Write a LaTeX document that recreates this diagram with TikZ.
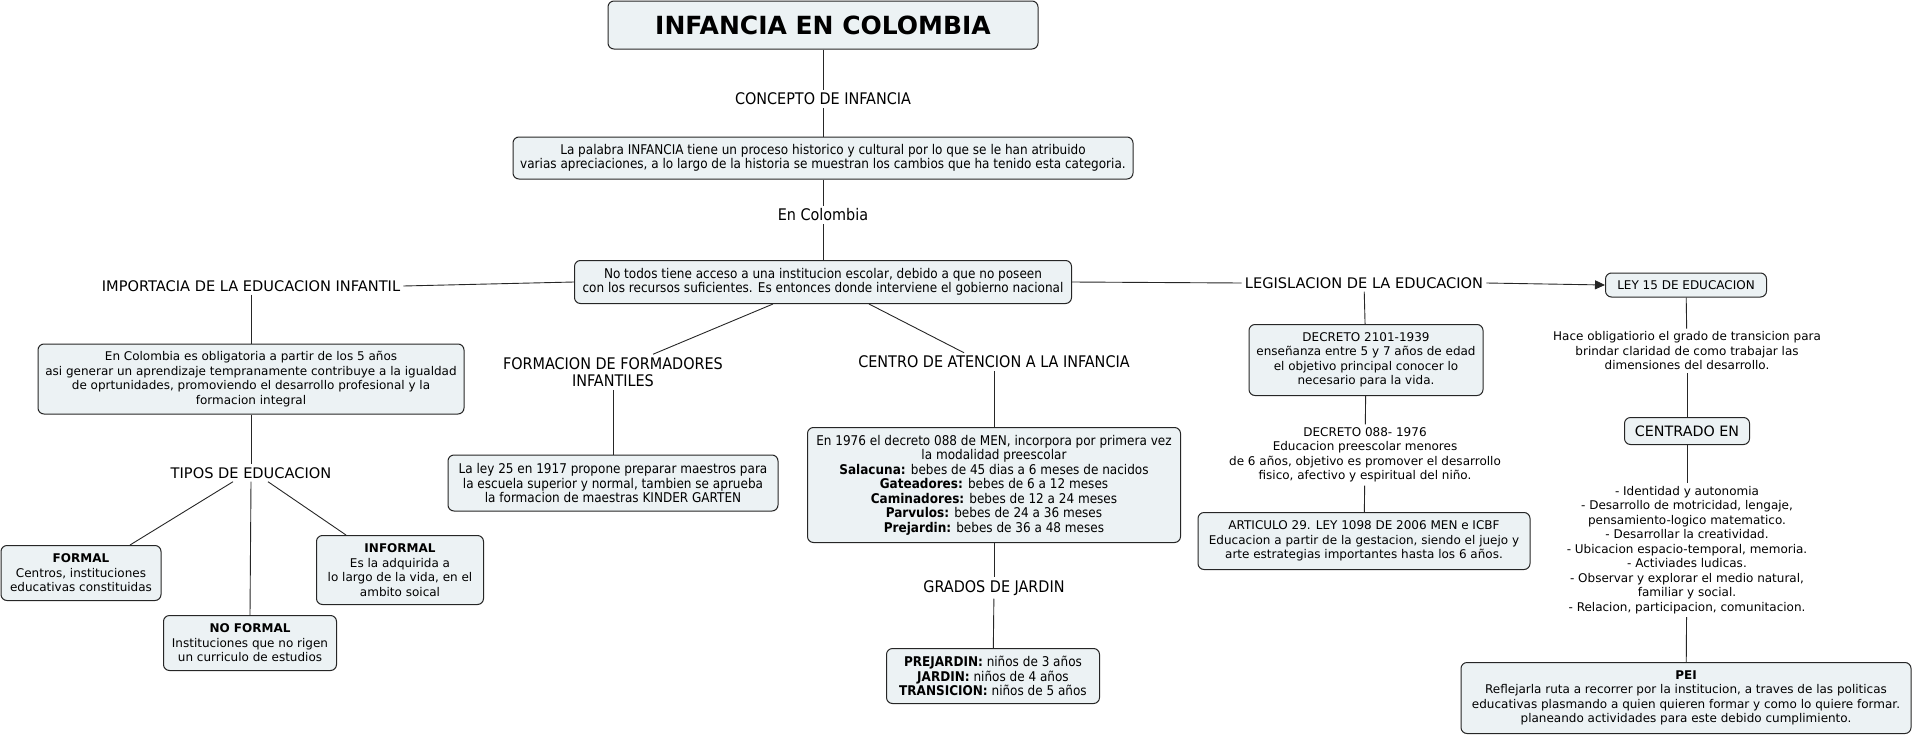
\documentclass[tikz,border=0pt]{standalone}
\usepackage{fontspec}
\usetikzlibrary{arrows.meta}
\setmainfont{DejaVu Sans}
\newfontfamily\narrowfont{DejaVu Sans Condensed}
\definecolor{boxfill}{RGB}{236,242,244}
\tikzset{
  mapbox/.style={draw=black!85,fill=boxfill,rounded corners=6pt,line width=1pt,align=center,inner sep=2pt,font=\fontsize{12}{14.5}\selectfont},
  narrowbox/.style={mapbox,font=\narrowfont\fontsize{13.4}{14.5}\selectfont},
  linkword/.style={align=center,inner sep=3pt,font=\fontsize{14.6}{17}\selectfont},
  narrowword/.style={linkword,font=\narrowfont\fontsize{16}{17}\selectfont},
  smallword/.style={align=center,inner sep=3pt,font=\fontsize{12}{14.5}\selectfont},
  link/.style={line width=0.9pt,draw=black!85}
}
\begin{document}
\begin{tikzpicture}[x=1pt,y=-1pt]
	\useasboundingbox (0,0) rectangle (1914,736);
	% centro del mapa
	\node[mapbox,minimum width=430,minimum height=48,font=\bfseries\fontsize{25}{28}\selectfont] (titulo) at (823,25) {INFANCIA EN COLOMBIA};
	\node[narrowword] (concepto) at (823,99) {CONCEPTO DE INFANCIA};
	\node[narrowbox,minimum width=620,minimum height=42] (palabra) at (823,158) {La palabra INFANCIA tiene un proceso historico y cultural por lo que se le han atribuido\\varias apreciaciones, a lo largo de la historia se muestran los cambios que ha tenido esta categoria.};
	\node[narrowword] (encolombia) at (823,215) {En Colombia};
	\node[narrowbox,minimum width=497,minimum height=43] (notodos) at (823,282) {No todos tiene acceso a una institucion escolar, debido a que no poseen\\con los recursos suficientes. Es entonces donde interviene el gobierno nacional};
	% rama izquierda
	\node[linkword] (importancia) at (251,286) {IMPORTACIA DE LA EDUCACION INFANTIL};
	\node[mapbox,minimum width=426,minimum height=70] (obligatoria) at (251,379) {En Colombia es obligatoria a partir de los 5 años\\asi generar un aprendizaje tempranamente contribuye a la igualdad\\de oprtunidades, promoviendo el desarrollo profesional y la\\formacion integral};
	\node[linkword] (tipos) at (251,473) {TIPOS DE EDUCACION};
	\node[mapbox,minimum width=160,minimum height=55] (formal) at (81,573) {\textbf{FORMAL}\\Centros, instituciones\\educativas constituidas};
	\node[mapbox,minimum width=173,minimum height=55] (noformal) at (250,643) {\textbf{NO FORMAL}\\Instituciones que no rigen\\un curriculo de estudios};
	\node[mapbox,minimum width=167,minimum height=69] (informal) at (400,570) {\textbf{INFORMAL}\\Es la adquirida a\\lo largo de la vida, en el\\ambito soical};
	% ramas del centro
	\node[narrowword] (formacion) at (613,372) {FORMACION DE FORMADORES\\INFANTILES};
	\node[narrowbox,minimum width=330,minimum height=56] (ley25) at (613,483) {La ley 25 en 1917 propone preparar maestros para\\la escuela superior y normal, tambien se aprueba\\la formacion de maestras KINDER GARTEN};
	\node[narrowword] (centro) at (994,362) {CENTRO DE ATENCION A LA INFANCIA};
	\node[narrowbox,minimum width=373,minimum height=115] (decreto1976) at (994,485) {En 1976 el decreto 088 de MEN, incorpora por primera vez\\la modalidad preescolar\\\textbf{Salacuna:} bebes de 45 dias a 6 meses de nacidos\\\textbf{Gateadores:} bebes de 6 a 12 meses\\\textbf{Caminadores:} bebes de 12 a 24 meses\\\textbf{Parvulos:} bebes de 24 a 36 meses\\\textbf{Prejardin:} bebes de 36 a 48 meses};
	\node[narrowword] (grados) at (994,588) {GRADOS DE JARDIN};
	\node[narrowbox,minimum width=213,minimum height=55] (jardin) at (993,676) {\textbf{PREJARDIN:} niños de 3 años\\\textbf{JARDIN:} niños de 4 años\\\textbf{TRANSICION:} niños de 5 años};
	% legislacion
	\node[linkword] (legislacion) at (1364,283) {LEGISLACION DE LA EDUCACION};
	\node[mapbox,minimum width=234,minimum height=71] (decreto2101) at (1366,360) {DECRETO 2101-1939\\enseñanza entre 5 y 7 años de edad\\el objetivo principal conocer lo\\necesario para la vida.};
	\node[smallword] (decreto088) at (1365,455) {DECRETO 088- 1976\\Educacion preescolar menores\\de 6 años, objetivo es promover el desarrollo\\fisico, afectivo y espiritual del niño.};
	\node[mapbox,minimum width=332,minimum height=57] (articulo) at (1364,541) {ARTICULO 29. LEY 1098 DE 2006 MEN e ICBF\\Educacion a partir de la gestacion, siendo el juejo y\\arte estrategias importantes hasta los 6 años.};
	% rama derecha
	\node[mapbox,minimum width=161,minimum height=24] (ley15) at (1686,285) {LEY 15 DE EDUCACION};
	\node[smallword] (hace) at (1687,351) {Hace obligatiorio el grado de transicion para\\brindar claridad de como trabajar las\\dimensiones del desarrollo.};
	\node[mapbox,minimum width=125,minimum height=27,font=\fontsize{14.3}{17}\selectfont] (centrado) at (1687,431) {CENTRADO EN};
	\node[smallword] (lista) at (1687,550) {- Identidad y autonomia\\- Desarrollo de motricidad, lengaje,\\pensamiento-logico matematico.\\- Desarrollar la creatividad.\\- Ubicacion espacio-temporal, memoria.\\- Activiades ludicas.\\- Observar y explorar el medio natural,\\familiar y social.\\- Relacion, participacion, comunitacion.};
	\node[mapbox,minimum width=450,minimum height=71] (pei) at (1686,698) {\textbf{PEI}\\Reflejarla ruta a recorrer por la institucion, a traves de las politicas\\educativas plasmando a quien quieren formar y como lo quiere formar.\\planeando actividades para este debido cumplimiento.};
	% conectores
	\draw[link] (titulo) -- (concepto);
	\draw[link] (concepto) -- (palabra);
	\draw[link] (palabra) -- (encolombia);
	\draw[link] (encolombia) -- (notodos);
	\draw[link] (notodos.west) -- (importancia.east);
	\draw[link] (importancia) -- (obligatoria);
	\draw[link] (obligatoria) -- (tipos);
	\draw[link] ([xshift=-18pt]tipos.south) -- ([xshift=49pt]formal.north);
	\draw[link] (tipos.south) -- (noformal.north);
	\draw[link] ([xshift=17pt]tipos.south) -- ([xshift=-54pt]informal.north);
	\draw[link] ([xshift=-50pt]notodos.south) -- ([xshift=40pt]formacion.north);
	\draw[link] ([xshift=46pt]notodos.south) -- ([xshift=-30pt]centro.north);
	\draw[link] (formacion) -- (ley25);
	\draw[link] (centro) -- (decreto1976);
	\draw[link] (decreto1976) -- (grados);
	\draw[link] (grados) -- (jardin);
	\draw[link] (notodos.east) -- (legislacion.west);
	\draw[link,->,>={Triangle[length=10pt,width=9pt]}] (legislacion.east) -- (ley15.west);
	\draw[link] (legislacion) -- (decreto2101);
	\draw[link] (decreto2101) -- (decreto088);
	\draw[link] (decreto088) -- (articulo);
	\draw[link] (ley15) -- (hace);
	\draw[link] (hace) -- (centrado);
	\draw[link] (centrado) -- (lista);
	\draw[link] (lista) -- (pei);
\end{tikzpicture}
\end{document}
